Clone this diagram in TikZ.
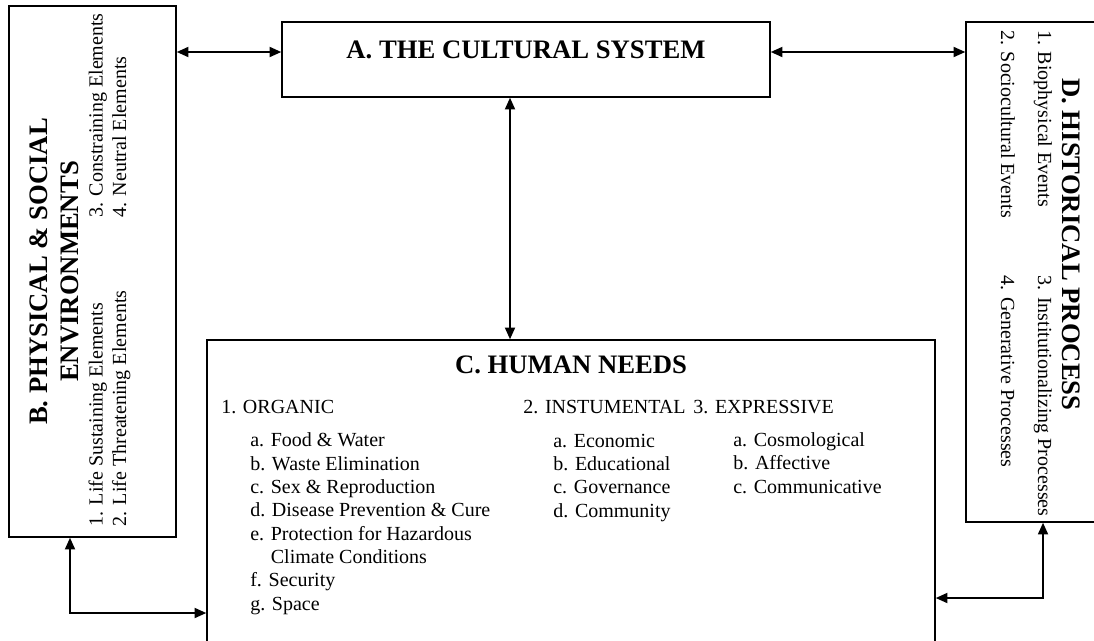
\documentclass[tikz,border=0pt]{standalone}
\usepackage{fontspec}
\setmainfont{Liberation Serif}
\usetikzlibrary{arrows.meta}

\begin{document}
\begin{tikzpicture}
		[x=0.6pt,y=-0.6pt,>={Triangle[length=7pt,width=6pt]},
		box/.style={rectangle,draw,line width=0.9pt,inner sep=0pt},
		heading/.style={font=\fontsize{16}{18.6}\selectfont\bfseries,inner sep=0pt,align=center},
		entry/.style={font=\fontsize{12}{14}\selectfont,inner sep=0pt,align=left,anchor=base west},
		link/.style={<->,line width=1.1pt}]
		\useasboundingbox (0,0) rectangle (1094,640);
		
		\node[box,minimum width=100.2pt,minimum height=318.6pt] (B) at (92.5,271.5) {};
		\node[box,minimum width=292.8pt,minimum height=45pt] (A) at (526,59.5) {};
		\node[box,minimum width=436.8pt,minimum height=186pt] (C) at (571,495) {};
		\node[box,minimum width=86.4pt,minimum height=300pt] (D) at (1038,272) {};
		
		\node[heading,anchor=base] (Atitle) at (526,58) {A. THE CULTURAL SYSTEM};
		
		\node[heading,rotate=90,anchor=base] (Btitle) at (78,271.5) {B. PHYSICAL \& SOCIAL\\ENVIRONMENTS};
		\node[entry,rotate=90] (Blife) at (126,527) {1. Life Sustaining Elements\\2. Life Threatening Elements};
		\node[entry,rotate=90] (Bother) at (126,218) {3. Constraining Elements\\4. Neutral Elements};
		
		\node[heading,anchor=base] (Ctitle) at (571,373) {C. HUMAN NEEDS};
		\node[entry] (organic) at (221,413) {1. ORGANIC};
		\node[entry] (organiclist) at (250,610) {a. Food \& Water\\b. Waste Elimination\\c. Sex \& Reproduction\\d. Disease Prevention \& Cure\\e. Protection for Hazardous\\\phantom{e. }Climate Conditions\\f. Security\\g. Space};
		\node[entry] (instr) at (523,413) {2. INSTUMENTAL};
		\node[entry] (instrlist) at (553,517) {a. Economic\\b. Educational\\c. Governance\\d. Community};
		\node[entry] (expr) at (693,413) {3. EXPRESSIVE};
		\node[entry] (exprlist) at (733,493) {a. Cosmological\\b. Affective\\c. Communicative};
		
		\node[heading,rotate=-90,anchor=base west] (Dtitle) at (1062,78) {D. HISTORICAL PROCESS};
		\node[entry,rotate=-90] (Devents) at (1001,30) {1. Biophysical Events\\[8.2pt]2. Sociocultural Events};
		\node[entry,rotate=-90] (Dproc) at (1001,275) {3. Institutionalizing Processes\\[8.2pt]4. Generative Processes};
		
		\coordinate (ab) at (0,52);
		\coordinate (ac) at (510,0);
		\coordinate (bc) at (70,613);
		\coordinate (dc) at (1043,598);
		
		\draw[link] (B.east |- ab) -- (A.west |- ab);
		\draw[link] (A.east |- ab) -- (D.west |- ab);
		\draw[link] (A.south -| ac) -- (C.north -| ac);
		\draw[link] (B.south -| bc) |- (C.west |- bc);
		\draw[link] (D.south -| dc) |- (C.east |- dc);
		
	\end{tikzpicture}
\end{document}
